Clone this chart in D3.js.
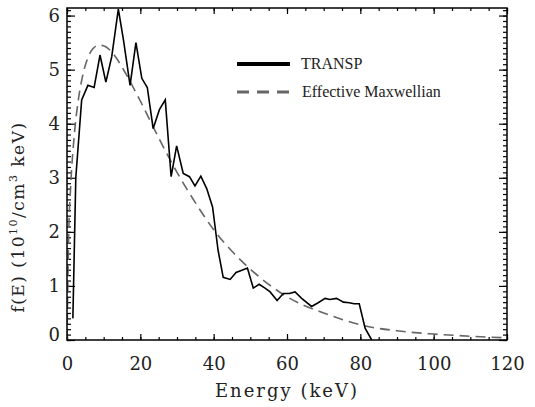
<!DOCTYPE html>
<html><head><meta charset="utf-8">
<script src="https://cdn.jsdelivr.net/npm/d3@7"></script>
<style>body{margin:0;background:#fff}</style>
</head><body><svg id="c" width="535" height="407"></svg>
<script>
// ---- data ----
const transpE = [1.6,2.4,4.0,5.7,7.4,9.0,10.6,12.2,14.0,15.4,17.2,18.8,20.4,21.9,23.5,25.2,26.8,28.4,29.9,31.7,33.4,34.9,36.5,38.1,39.7,41.2,42.6,44.5,46.1,47.7,49.2,50.8,52.4,54.0,55.4,57.3,59.0,60.6,62.2,64.0,66.7,68.5,70.4,71.7,73.5,75.4,77.0,78.3,79.7,81.3,83.1];
const transpF = [0.40,3.00,4.44,4.71,4.67,5.27,4.77,5.24,6.12,5.55,4.71,5.50,4.84,4.67,3.91,4.26,4.44,3.02,3.59,3.08,3.02,2.85,3.03,2.80,2.46,1.66,1.16,1.12,1.25,1.29,1.33,0.96,1.03,0.96,0.89,0.73,0.86,0.86,0.89,0.77,0.62,0.69,0.77,0.75,0.77,0.70,0.69,0.67,0.67,0.22,0.0];
const maxwE = [0,0.5,1,2,3,4,5,6,7,8,9,10,12,14,16,18,20,25,30,35,40,45,50,55,60,65,70,75,80,90,100,110,120];
const maxwF = [0,2.06,2.84,3.80,4.40,4.80,5.08,5.27,5.38,5.44,5.45,5.44,5.34,5.16,4.93,4.68,4.42,3.74,3.10,2.54,2.04,1.64,1.31,1.03,0.80,0.63,0.50,0.38,0.28,0.17,0.11,0.07,0.04];
const xTicks = [0,20,40,60,80,100,120];
const yTicks = [0,1,2,3,4,5,6];
const legendLabels = ["TRANSP","Effective Maxwellian"];

const L=67,R=507,T=8,B=340;
const svg=d3.select("#c");
const x=d3.scaleLinear().domain([0,120]).range([L,R]);
const y=d3.scaleLinear().domain([0,6.14]).range([B,T]);

const tickFont="'DejaVu Serif', serif";
function styleAxis(g){
  g.select(".domain").remove();
  g.selectAll(".tick line").attr("stroke","#000").attr("stroke-width",1.2);
  g.selectAll("text").attr("font-family",tickFont).attr("font-size",18).attr("fill","#222");
}
const xMinor=d3.range(0,121,5), yMinor=d3.range(0,6.14,0.1);

// bottom
svg.append("g").attr("transform",`translate(0,${B})`)
  .call(d3.axisBottom(x).tickValues(xMinor).tickSize(-3).tickFormat("")).call(styleAxis);
svg.append("g").attr("transform",`translate(0,${B})`)
  .call(d3.axisBottom(x).tickValues(xTicks).tickSize(-6).tickPadding(17).tickFormat(d3.format("d"))).call(styleAxis);
// top
svg.append("g").attr("transform",`translate(0,${T})`)
  .call(d3.axisTop(x).tickValues(xMinor).tickSize(-3).tickFormat("")).call(styleAxis);
svg.append("g").attr("transform",`translate(0,${T})`)
  .call(d3.axisTop(x).tickValues(xTicks).tickSize(-6).tickFormat("")).call(styleAxis);
// left
svg.append("g").attr("transform",`translate(${L},0)`)
  .call(d3.axisLeft(y).tickValues(yMinor).tickSize(-4).tickFormat("")).call(styleAxis);
const yl=svg.append("g").attr("transform",`translate(${L},0)`)
  .call(d3.axisLeft(y).tickValues(yTicks).tickSize(-8).tickPadding(7).tickFormat(d3.format("d"))).call(styleAxis);
yl.selectAll(".tick text").filter(d=>d===0).attr("dy","0.0em");
// right
svg.append("g").attr("transform",`translate(${R},0)`)
  .call(d3.axisRight(y).tickValues(yMinor).tickSize(-4).tickFormat("")).call(styleAxis);
svg.append("g").attr("transform",`translate(${R},0)`)
  .call(d3.axisRight(y).tickValues(yTicks).tickSize(-8).tickFormat("")).call(styleAxis);

// clip
svg.append("clipPath").attr("id","pc").append("rect").attr("x",L).attr("y",T).attr("width",R-L).attr("height",B-T);

svg.append("path").attr("clip-path","url(#pc)")
  .datum(maxwE.map((e,i)=>[e,maxwF[i]]))
  .attr("d",d3.line().x(d=>x(d[0])).y(d=>y(d[1])).curve(d3.curveMonotoneX)).attr("fill","none")
  .attr("stroke","#666").attr("stroke-width",1.6).attr("stroke-dasharray","10,6");
svg.append("path").attr("clip-path","url(#pc)")
  .datum(transpE.map((e,i)=>[e,transpF[i]]))
  .attr("d",d3.line().x(d=>x(d[0])).y(d=>y(d[1]))).attr("fill","none")
  .attr("stroke","#000").attr("stroke-width",1.6).attr("stroke-linejoin","miter");

// frame
svg.append("rect").attr("x",L).attr("y",T).attr("width",R-L).attr("height",B-T)
  .attr("fill","none").attr("stroke","#000").attr("stroke-width",1.5);

// legend
const lg=svg.append("g");
lg.append("line").attr("x1",237).attr("x2",290).attr("y1",64).attr("y2",64).attr("stroke","#000").attr("stroke-width",4);
lg.append("line").attr("x1",237).attr("x2",290).attr("y1",92).attr("y2",92).attr("stroke","#666").attr("stroke-width",3).attr("stroke-dasharray","12,8");
lg.selectAll("text.lg").data(legendLabels).enter().append("text")
  .attr("x",d=>d==="TRANSP"?301:302).attr("y",(d,i)=>[69,97][i])
  .attr("font-family","'Liberation Serif', serif").attr("font-size",16).attr("fill","#222").text(d=>d);

// axis titles
svg.append("text").attr("x",(L+R)/2).attr("y",397).attr("text-anchor","middle")
  .attr("font-family",tickFont).attr("font-size",18).attr("letter-spacing",2).attr("fill","#222").text("Energy (keV)");
const yt=svg.append("text").attr("transform","translate(24,217) rotate(-90)").attr("text-anchor","middle")
  .attr("font-family",tickFont).attr("font-size",17).attr("letter-spacing",1.5).attr("fill","#222");
yt.append("tspan").text("f(E) (10");
yt.append("tspan").attr("font-size",11).attr("dy",-7).text("10");
yt.append("tspan").attr("dy",7).text("/cm");
yt.append("tspan").attr("font-size",11).attr("dy",-7).text("3");
yt.append("tspan").attr("dy",7).text(" keV)");
</script></body></html>
